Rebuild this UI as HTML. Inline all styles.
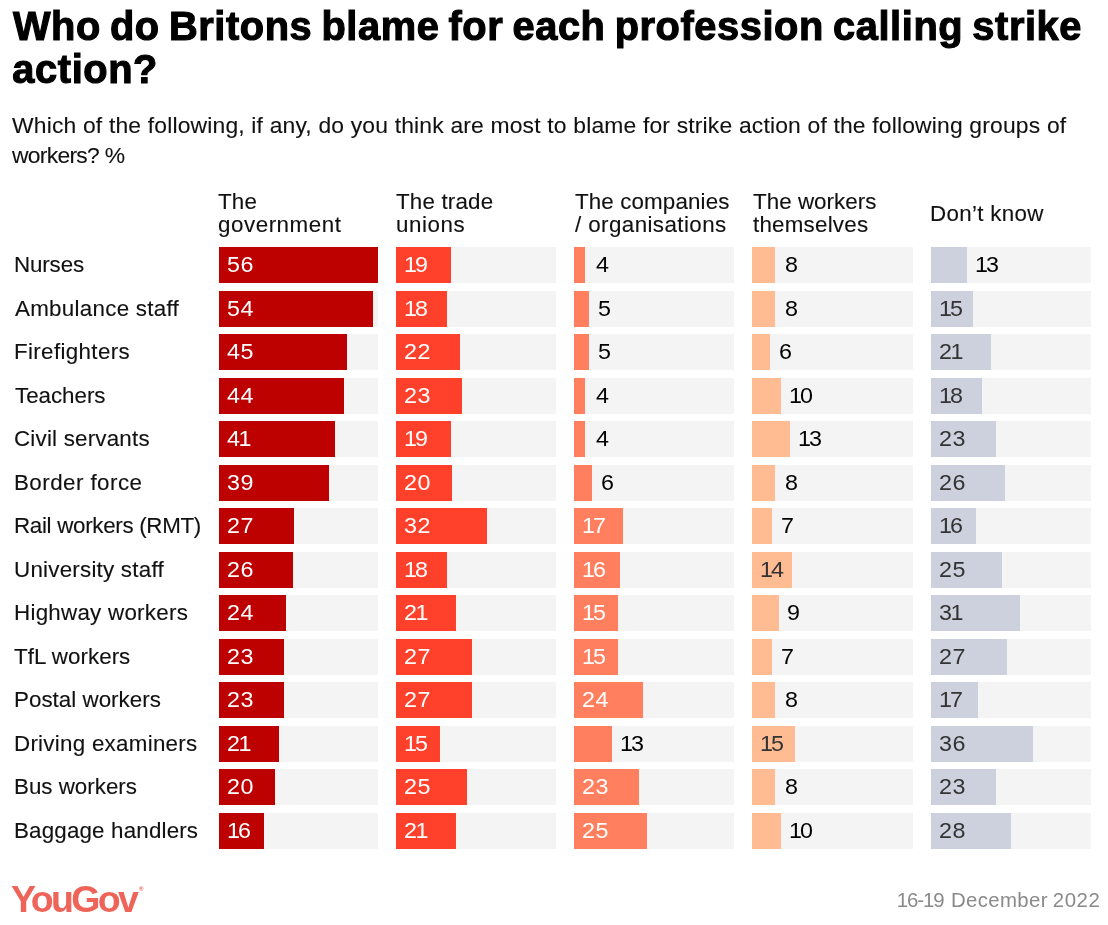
<!DOCTYPE html>
<html lang="en"><head><meta charset="utf-8"><title>Who do Britons blame for each profession calling strike action?</title>
<style>
html,body{margin:0;padding:0;background:#fff}
body{width:1108px;height:925px;position:relative;overflow:hidden;font-family:"Liberation Sans",Arial,Helvetica,sans-serif;color:#000}
.t{position:absolute;white-space:nowrap;line-height:1;margin:0;padding:0;font-weight:400;transform-origin:0 50%}
.title{font-weight:700;font-size:39.8px;color:#000;-webkit-text-stroke:1.1px #000;word-spacing:-2.5px}
.sub{font-size:22.0px;color:#111;transform:scaleX(1.04);-webkit-text-stroke:0.1px #111}
.hd{font-size:21.5px;color:#111;transform:scaleX(1.04);-webkit-text-stroke:0.12px #111}
.lbl{font-size:21.5px;color:#111;transform:scaleX(1.04);-webkit-text-stroke:0.12px #111}
.date{font-size:20.4px;color:#8a8a8a}
.num{font-size:22.0px;transform:scaleX(1.06)}
.trk{position:absolute;height:36px;background:#f4f4f4}
.bar{position:absolute;left:0;top:0;height:100%}
.logo{position:absolute;left:11px;top:881px;font-weight:700;font-size:37.5px;letter-spacing:-2.6px;color:#ee6458;line-height:1;white-space:nowrap}
.logo sup{font-size:6px;font-weight:700;letter-spacing:0;position:absolute;top:5px;right:-7px}
</style></head><body>
<div class="t title" id="t1" style="left:12.91px;top:7px;letter-spacing:0.584px">Who do Britons blame for each profession calling strike</div>
<div class="t title" id="t2" style="left:12.32px;top:50px;letter-spacing:0.600px">action?</div>
<div class="t sub" id="s1" style="left:12.36px;top:115px;letter-spacing:0.164px">Which of the following, if any, do you think are most to blame for strike action of the following groups of</div>
<div class="t sub" id="s2" style="left:12.48px;top:145px;letter-spacing:-0.699px">workers? %</div>
<div class="t hd" id="h1a" style="left:218.48px;top:192px;letter-spacing:0.174px">The</div>
<div class="t hd" id="h1b" style="left:218.42px;top:215px;letter-spacing:0.515px">government</div>
<div class="t hd" id="h2a" style="left:396.03px;top:192px;letter-spacing:0.172px">The trade</div>
<div class="t hd" id="h2b" style="left:396.30px;top:215px;letter-spacing:0.517px">unions</div>
<div class="t hd" id="h3a" style="left:574.78px;top:192px;letter-spacing:0.120px">The companies</div>
<div class="t hd" id="h3b" style="left:574.84px;top:215px;letter-spacing:0.394px">/ organisations</div>
<div class="t hd" id="h4a" style="left:752.58px;top:192px;letter-spacing:0.044px">The workers</div>
<div class="t hd" id="h4b" style="left:753.22px;top:215px;letter-spacing:0.214px">themselves</div>
<div class="t hd" id="h5" style="left:929.56px;top:204px;letter-spacing:0.301px">Don’t know</div>
<div class="t lbl" id="l0" style="left:14.46px;top:255px;letter-spacing:-0.131px">Nurses</div>
<div class="t lbl" id="l1" style="left:15.14px;top:299px;letter-spacing:0.268px">Ambulance staff</div>
<div class="t lbl" id="l2" style="left:13.66px;top:342px;letter-spacing:0.332px">Firefighters</div>
<div class="t lbl" id="l3" style="left:14.58px;top:386px;letter-spacing:-0.030px">Teachers</div>
<div class="t lbl" id="l4" style="left:13.74px;top:429px;letter-spacing:0.197px">Civil servants</div>
<div class="t lbl" id="l5" style="left:13.66px;top:473px;letter-spacing:0.430px">Border force</div>
<div class="t lbl" id="l6" style="left:13.66px;top:516px;letter-spacing:-0.297px">Rail workers (RMT)</div>
<div class="t lbl" id="l7" style="left:13.86px;top:560px;letter-spacing:0.219px">University staff</div>
<div class="t lbl" id="l8" style="left:13.66px;top:603px;letter-spacing:0.246px">Highway workers</div>
<div class="t lbl" id="l9" style="left:14.38px;top:647px;letter-spacing:0.032px">TfL workers</div>
<div class="t lbl" id="l10" style="left:13.66px;top:690px;letter-spacing:0.018px">Postal workers</div>
<div class="t lbl" id="l11" style="left:13.66px;top:734px;letter-spacing:0.255px">Driving examiners</div>
<div class="t lbl" id="l12" style="left:13.66px;top:777px;letter-spacing:-0.004px">Bus workers</div>
<div class="t lbl" id="l13" style="left:13.66px;top:821px;letter-spacing:0.162px">Baggage handlers</div>
<div class="t date" id="d1" style="left:896.78px;top:890px;letter-spacing:-1.100px">16-19</div>
<div class="t date" id="d2" style="left:951.02px;top:890px;letter-spacing:0.340px">December</div>
<div class="t date" id="d3" style="left:1052.74px;top:890px;letter-spacing:0.600px">2022</div>
<div class="trk" style="left:219px;top:247px;width:159px"><div class="bar" style="width:159px;background:#bd0000"></div><span class="t num" style="left:7.67px;top:7px;color:#fff;letter-spacing:0.4px">56</span></div>
<div class="trk" style="left:396px;top:247px;width:160px"><div class="bar" style="width:55px;background:#ff412c"></div><span class="t num" style="left:8.10px;top:7px;color:#fff;letter-spacing:-1.9px">19</span></div>
<div class="trk" style="left:574px;top:247px;width:160px"><div class="bar" style="width:11px;background:#ff7f5f"></div><span class="t num" style="left:21.77px;top:7px;color:#000">4</span></div>
<div class="trk" style="left:752px;top:247px;width:161px"><div class="bar" style="width:23px;background:#ffbb91"></div><span class="t num" style="left:32.63px;top:7px;color:#000">8</span></div>
<div class="trk" style="left:931px;top:247px;width:160px"><div class="bar" style="width:36px;background:#ccd1dd"></div><span class="t num" style="left:44.00px;top:7px;color:#000;letter-spacing:-1.9px">13</span></div>
<div class="trk" style="left:219px;top:291px;width:159px"><div class="bar" style="width:154px;background:#bd0000"></div><span class="t num" style="left:7.67px;top:7px;color:#fff;letter-spacing:0.4px">54</span></div>
<div class="trk" style="left:396px;top:291px;width:160px"><div class="bar" style="width:51px;background:#ff412c"></div><span class="t num" style="left:8.10px;top:7px;color:#fff;letter-spacing:-1.9px">18</span></div>
<div class="trk" style="left:574px;top:291px;width:160px"><div class="bar" style="width:15px;background:#ff7f5f"></div><span class="t num" style="left:23.87px;top:7px;color:#000">5</span></div>
<div class="trk" style="left:752px;top:291px;width:161px"><div class="bar" style="width:23px;background:#ffbb91"></div><span class="t num" style="left:32.63px;top:7px;color:#000">8</span></div>
<div class="trk" style="left:931px;top:291px;width:160px"><div class="bar" style="width:42px;background:#ccd1dd"></div><span class="t num" style="left:8.10px;top:7px;color:#333;letter-spacing:-1.9px">15</span></div>
<div class="trk" style="left:219px;top:334px;width:159px"><div class="bar" style="width:128px;background:#bd0000"></div><span class="t num" style="left:8.47px;top:7px;color:#fff;letter-spacing:0.4px">45</span></div>
<div class="trk" style="left:396px;top:334px;width:160px"><div class="bar" style="width:64px;background:#ff412c"></div><span class="t num" style="left:7.81px;top:7px;color:#fff;letter-spacing:0.4px">22</span></div>
<div class="trk" style="left:574px;top:334px;width:160px"><div class="bar" style="width:15px;background:#ff7f5f"></div><span class="t num" style="left:23.87px;top:7px;color:#000">5</span></div>
<div class="trk" style="left:752px;top:334px;width:161px"><div class="bar" style="width:18px;background:#ffbb91"></div><span class="t num" style="left:26.64px;top:7px;color:#000">6</span></div>
<div class="trk" style="left:931px;top:334px;width:160px"><div class="bar" style="width:60px;background:#ccd1dd"></div><span class="t num" style="left:7.81px;top:7px;color:#333;letter-spacing:-1.3px">21</span></div>
<div class="trk" style="left:219px;top:378px;width:159px"><div class="bar" style="width:125px;background:#bd0000"></div><span class="t num" style="left:8.47px;top:7px;color:#fff;letter-spacing:0.4px">44</span></div>
<div class="trk" style="left:396px;top:378px;width:160px"><div class="bar" style="width:66px;background:#ff412c"></div><span class="t num" style="left:7.81px;top:7px;color:#fff;letter-spacing:0.4px">23</span></div>
<div class="trk" style="left:574px;top:378px;width:160px"><div class="bar" style="width:11px;background:#ff7f5f"></div><span class="t num" style="left:21.77px;top:7px;color:#000">4</span></div>
<div class="trk" style="left:752px;top:378px;width:161px"><div class="bar" style="width:29px;background:#ffbb91"></div><span class="t num" style="left:37.40px;top:7px;color:#000;letter-spacing:-1.9px">10</span></div>
<div class="trk" style="left:931px;top:378px;width:160px"><div class="bar" style="width:51px;background:#ccd1dd"></div><span class="t num" style="left:8.10px;top:7px;color:#333;letter-spacing:-1.9px">18</span></div>
<div class="trk" style="left:219px;top:421px;width:159px"><div class="bar" style="width:116px;background:#bd0000"></div><span class="t num" style="left:8.47px;top:7px;color:#fff;letter-spacing:-1.3px">41</span></div>
<div class="trk" style="left:396px;top:421px;width:160px"><div class="bar" style="width:55px;background:#ff412c"></div><span class="t num" style="left:8.10px;top:7px;color:#fff;letter-spacing:-1.9px">19</span></div>
<div class="trk" style="left:574px;top:421px;width:160px"><div class="bar" style="width:11px;background:#ff7f5f"></div><span class="t num" style="left:21.77px;top:7px;color:#000">4</span></div>
<div class="trk" style="left:752px;top:421px;width:161px"><div class="bar" style="width:38px;background:#ffbb91"></div><span class="t num" style="left:45.50px;top:7px;color:#000;letter-spacing:-1.9px">13</span></div>
<div class="trk" style="left:931px;top:421px;width:160px"><div class="bar" style="width:65px;background:#ccd1dd"></div><span class="t num" style="left:7.81px;top:7px;color:#333;letter-spacing:0.4px">23</span></div>
<div class="trk" style="left:219px;top:465px;width:159px"><div class="bar" style="width:110px;background:#bd0000"></div><span class="t num" style="left:7.85px;top:7px;color:#fff;letter-spacing:0.4px">39</span></div>
<div class="trk" style="left:396px;top:465px;width:160px"><div class="bar" style="width:56px;background:#ff412c"></div><span class="t num" style="left:7.81px;top:7px;color:#fff;letter-spacing:0.4px">20</span></div>
<div class="trk" style="left:574px;top:465px;width:160px"><div class="bar" style="width:18px;background:#ff7f5f"></div><span class="t num" style="left:26.94px;top:7px;color:#000">6</span></div>
<div class="trk" style="left:752px;top:465px;width:161px"><div class="bar" style="width:23px;background:#ffbb91"></div><span class="t num" style="left:32.63px;top:7px;color:#000">8</span></div>
<div class="trk" style="left:931px;top:465px;width:160px"><div class="bar" style="width:74px;background:#ccd1dd"></div><span class="t num" style="left:7.81px;top:7px;color:#333;letter-spacing:0.4px">26</span></div>
<div class="trk" style="left:219px;top:508px;width:159px"><div class="bar" style="width:75px;background:#bd0000"></div><span class="t num" style="left:7.81px;top:7px;color:#fff;letter-spacing:0.4px">27</span></div>
<div class="trk" style="left:396px;top:508px;width:160px"><div class="bar" style="width:91px;background:#ff412c"></div><span class="t num" style="left:7.85px;top:7px;color:#fff;letter-spacing:0.4px">32</span></div>
<div class="trk" style="left:574px;top:508px;width:160px"><div class="bar" style="width:49px;background:#ff7f5f"></div><span class="t num" style="left:8.10px;top:7px;color:#fff;letter-spacing:-1.9px">17</span></div>
<div class="trk" style="left:752px;top:508px;width:161px"><div class="bar" style="width:20px;background:#ffbb91"></div><span class="t num" style="left:28.99px;top:7px;color:#000">7</span></div>
<div class="trk" style="left:931px;top:508px;width:160px"><div class="bar" style="width:45px;background:#ccd1dd"></div><span class="t num" style="left:8.10px;top:7px;color:#333;letter-spacing:-1.9px">16</span></div>
<div class="trk" style="left:219px;top:552px;width:159px"><div class="bar" style="width:74px;background:#bd0000"></div><span class="t num" style="left:7.81px;top:7px;color:#fff;letter-spacing:0.4px">26</span></div>
<div class="trk" style="left:396px;top:552px;width:160px"><div class="bar" style="width:51px;background:#ff412c"></div><span class="t num" style="left:8.10px;top:7px;color:#fff;letter-spacing:-1.9px">18</span></div>
<div class="trk" style="left:574px;top:552px;width:160px"><div class="bar" style="width:46px;background:#ff7f5f"></div><span class="t num" style="left:8.10px;top:7px;color:#fff;letter-spacing:-1.9px">16</span></div>
<div class="trk" style="left:752px;top:552px;width:161px"><div class="bar" style="width:40px;background:#ffbb91"></div><span class="t num" style="left:8.10px;top:7px;color:#333;letter-spacing:-1.9px">14</span></div>
<div class="trk" style="left:931px;top:552px;width:160px"><div class="bar" style="width:71px;background:#ccd1dd"></div><span class="t num" style="left:7.81px;top:7px;color:#333;letter-spacing:0.4px">25</span></div>
<div class="trk" style="left:219px;top:595px;width:159px"><div class="bar" style="width:67px;background:#bd0000"></div><span class="t num" style="left:7.81px;top:7px;color:#fff;letter-spacing:0.4px">24</span></div>
<div class="trk" style="left:396px;top:595px;width:160px"><div class="bar" style="width:60px;background:#ff412c"></div><span class="t num" style="left:7.81px;top:7px;color:#fff;letter-spacing:-1.3px">21</span></div>
<div class="trk" style="left:574px;top:595px;width:160px"><div class="bar" style="width:44px;background:#ff7f5f"></div><span class="t num" style="left:8.10px;top:7px;color:#fff;letter-spacing:-1.9px">15</span></div>
<div class="trk" style="left:752px;top:595px;width:161px"><div class="bar" style="width:27px;background:#ffbb91"></div><span class="t num" style="left:35.34px;top:7px;color:#000">9</span></div>
<div class="trk" style="left:931px;top:595px;width:160px"><div class="bar" style="width:89px;background:#ccd1dd"></div><span class="t num" style="left:7.85px;top:7px;color:#333;letter-spacing:-1.3px">31</span></div>
<div class="trk" style="left:219px;top:639px;width:159px"><div class="bar" style="width:65px;background:#bd0000"></div><span class="t num" style="left:7.81px;top:7px;color:#fff;letter-spacing:0.4px">23</span></div>
<div class="trk" style="left:396px;top:639px;width:160px"><div class="bar" style="width:76px;background:#ff412c"></div><span class="t num" style="left:7.81px;top:7px;color:#fff;letter-spacing:0.4px">27</span></div>
<div class="trk" style="left:574px;top:639px;width:160px"><div class="bar" style="width:44px;background:#ff7f5f"></div><span class="t num" style="left:8.10px;top:7px;color:#fff;letter-spacing:-1.9px">15</span></div>
<div class="trk" style="left:752px;top:639px;width:161px"><div class="bar" style="width:20px;background:#ffbb91"></div><span class="t num" style="left:28.99px;top:7px;color:#000">7</span></div>
<div class="trk" style="left:931px;top:639px;width:160px"><div class="bar" style="width:76px;background:#ccd1dd"></div><span class="t num" style="left:7.81px;top:7px;color:#333;letter-spacing:0.4px">27</span></div>
<div class="trk" style="left:219px;top:682px;width:159px"><div class="bar" style="width:65px;background:#bd0000"></div><span class="t num" style="left:7.81px;top:7px;color:#fff;letter-spacing:0.4px">23</span></div>
<div class="trk" style="left:396px;top:682px;width:160px"><div class="bar" style="width:76px;background:#ff412c"></div><span class="t num" style="left:7.81px;top:7px;color:#fff;letter-spacing:0.4px">27</span></div>
<div class="trk" style="left:574px;top:682px;width:160px"><div class="bar" style="width:69px;background:#ff7f5f"></div><span class="t num" style="left:7.81px;top:7px;color:#fff;letter-spacing:0.4px">24</span></div>
<div class="trk" style="left:752px;top:682px;width:161px"><div class="bar" style="width:23px;background:#ffbb91"></div><span class="t num" style="left:32.63px;top:7px;color:#000">8</span></div>
<div class="trk" style="left:931px;top:682px;width:160px"><div class="bar" style="width:47px;background:#ccd1dd"></div><span class="t num" style="left:8.10px;top:7px;color:#333;letter-spacing:-1.9px">17</span></div>
<div class="trk" style="left:219px;top:726px;width:159px"><div class="bar" style="width:60px;background:#bd0000"></div><span class="t num" style="left:7.81px;top:7px;color:#fff;letter-spacing:-1.3px">21</span></div>
<div class="trk" style="left:396px;top:726px;width:160px"><div class="bar" style="width:44px;background:#ff412c"></div><span class="t num" style="left:8.10px;top:7px;color:#fff;letter-spacing:-1.9px">15</span></div>
<div class="trk" style="left:574px;top:726px;width:160px"><div class="bar" style="width:38px;background:#ff7f5f"></div><span class="t num" style="left:45.50px;top:7px;color:#000;letter-spacing:-1.9px">13</span></div>
<div class="trk" style="left:752px;top:726px;width:161px"><div class="bar" style="width:43px;background:#ffbb91"></div><span class="t num" style="left:8.10px;top:7px;color:#333;letter-spacing:-1.9px">15</span></div>
<div class="trk" style="left:931px;top:726px;width:160px"><div class="bar" style="width:102px;background:#ccd1dd"></div><span class="t num" style="left:7.85px;top:7px;color:#333;letter-spacing:0.4px">36</span></div>
<div class="trk" style="left:219px;top:769px;width:159px"><div class="bar" style="width:56px;background:#bd0000"></div><span class="t num" style="left:7.81px;top:7px;color:#fff;letter-spacing:0.4px">20</span></div>
<div class="trk" style="left:396px;top:769px;width:160px"><div class="bar" style="width:71px;background:#ff412c"></div><span class="t num" style="left:7.81px;top:7px;color:#fff;letter-spacing:0.4px">25</span></div>
<div class="trk" style="left:574px;top:769px;width:160px"><div class="bar" style="width:65px;background:#ff7f5f"></div><span class="t num" style="left:7.81px;top:7px;color:#fff;letter-spacing:0.4px">23</span></div>
<div class="trk" style="left:752px;top:769px;width:161px"><div class="bar" style="width:23px;background:#ffbb91"></div><span class="t num" style="left:32.63px;top:7px;color:#000">8</span></div>
<div class="trk" style="left:931px;top:769px;width:160px"><div class="bar" style="width:65px;background:#ccd1dd"></div><span class="t num" style="left:7.81px;top:7px;color:#333;letter-spacing:0.4px">23</span></div>
<div class="trk" style="left:219px;top:813px;width:159px"><div class="bar" style="width:45px;background:#bd0000"></div><span class="t num" style="left:8.10px;top:7px;color:#fff;letter-spacing:-1.9px">16</span></div>
<div class="trk" style="left:396px;top:813px;width:160px"><div class="bar" style="width:60px;background:#ff412c"></div><span class="t num" style="left:7.81px;top:7px;color:#fff;letter-spacing:-1.3px">21</span></div>
<div class="trk" style="left:574px;top:813px;width:160px"><div class="bar" style="width:73px;background:#ff7f5f"></div><span class="t num" style="left:7.81px;top:7px;color:#fff;letter-spacing:0.4px">25</span></div>
<div class="trk" style="left:752px;top:813px;width:161px"><div class="bar" style="width:29px;background:#ffbb91"></div><span class="t num" style="left:37.40px;top:7px;color:#000;letter-spacing:-1.9px">10</span></div>
<div class="trk" style="left:931px;top:813px;width:160px"><div class="bar" style="width:80px;background:#ccd1dd"></div><span class="t num" style="left:7.81px;top:7px;color:#333;letter-spacing:0.4px">28</span></div>
<div class="logo">YouGov<sup>®</sup></div>
</body></html>
